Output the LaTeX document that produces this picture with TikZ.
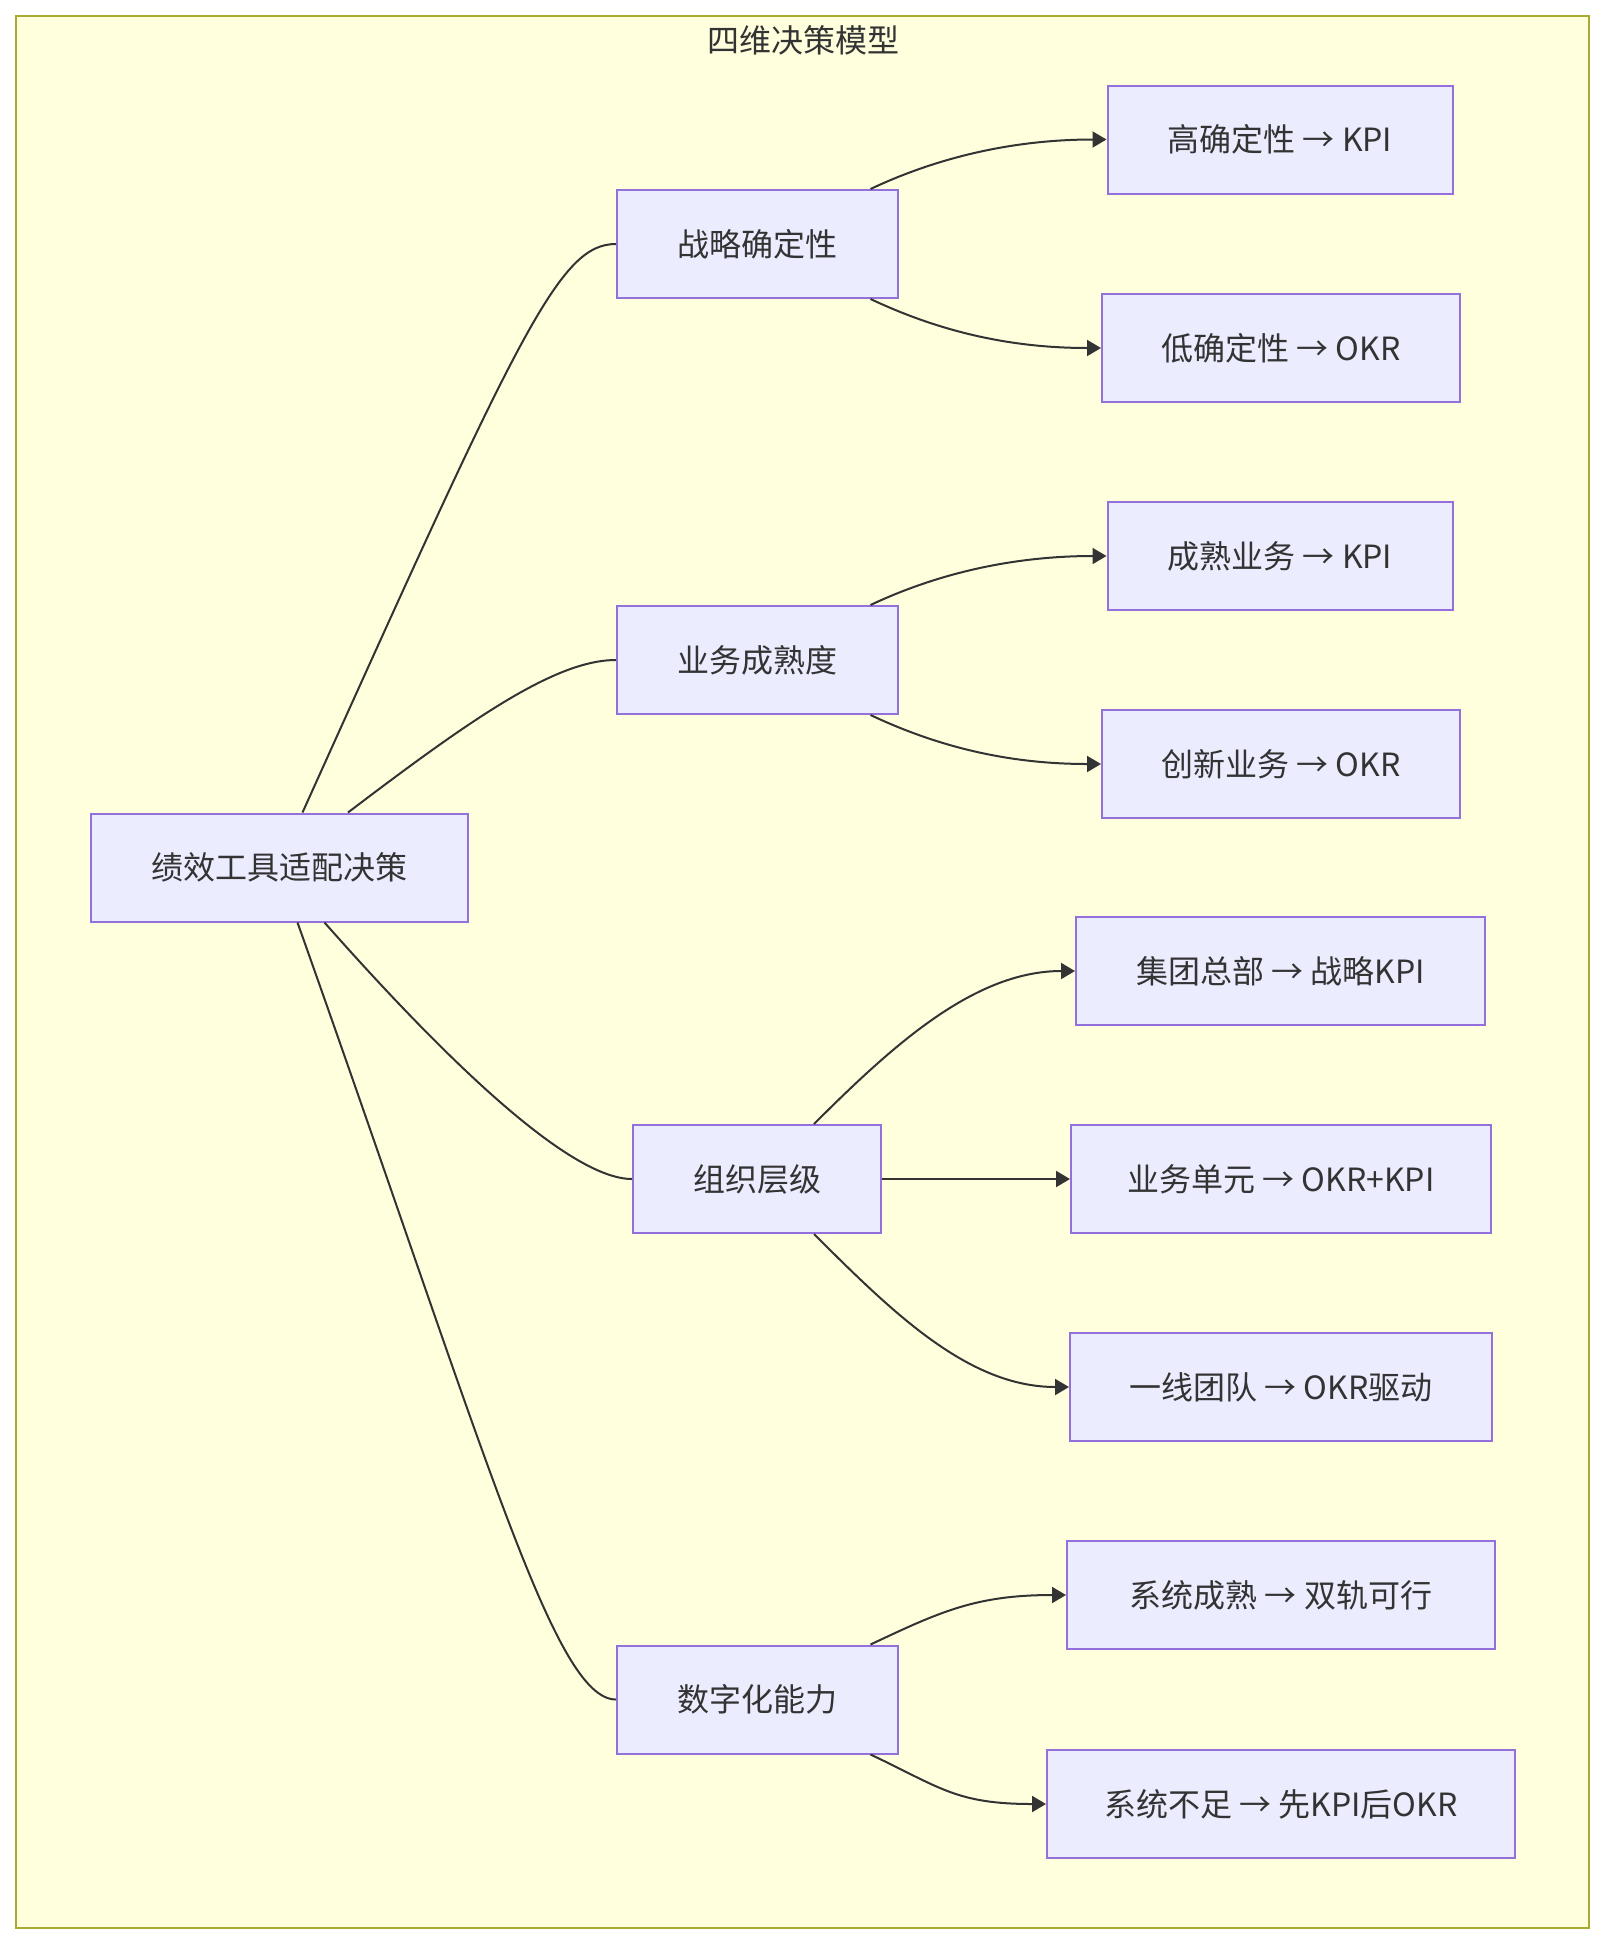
\documentclass[tikz,border=0pt]{standalone}
\usepackage{fontspec}
\newfontfamily\cjk{Noto Sans CJK SC}
\usetikzlibrary{calc,arrows.meta}
\definecolor{framefill}{HTML}{FFFFDE}
\definecolor{framedraw}{HTML}{AAAA33}
\definecolor{nodefill}{HTML}{ECECFF}
\definecolor{nodedraw}{HTML}{9370DB}
\definecolor{ink}{HTML}{333333}
\tikzset{
  box/.style={draw=nodedraw, fill=nodefill, line width=1pt, minimum height=54pt,
    inner sep=0pt, text=ink, font=\cjk\fontsize{16}{19}\selectfont},
  link/.style={draw=ink, line width=1pt},
  arrowlink/.style={link, -{Triangle[length=7pt,width=8pt]}},
}
\begin{document}
\begin{tikzpicture}[x=0.5pt,y=-0.5pt]
\useasboundingbox (0,0) rectangle (1605,1944);
\draw[fill=framefill, draw=framedraw, line width=1pt] (16,16) rectangle (1589,1928);
\node[text=ink, font=\cjk\fontsize{16}{19}\selectfont] (title) at (803,40) {四维决策模型};

\node[box, minimum width=188.5pt] (root) at (279.5,867.5) {绩效工具适配决策};

\node[box, minimum width=140.5pt] (s1) at (757.5,244) {战略确定性};
\node[box, minimum width=140.5pt] (s2) at (757.5,660) {业务成熟度};
\node[box, minimum width=124pt] (s3) at (757,1179) {组织层级};
\node[box, minimum width=140.5pt] (s4) at (757.5,1699.5) {数字化能力};

\node[box, minimum width=172.5pt] (l1) at (1280,139.5) {高确定性 → KPI};
\node[box, minimum width=179pt] (l2) at (1281,348) {低确定性 → OKR};
\node[box, minimum width=172.5pt] (l3) at (1280,556) {成熟业务 → KPI};
\node[box, minimum width=179pt] (l4) at (1281,764) {创新业务 → OKR};
\node[box, minimum width=204.5pt] (l5) at (1280.5,971) {集团总部 → 战略KPI};
\node[box, minimum width=210pt] (l6) at (1281,1179) {业务单元 → OKR+KPI};
\node[box, minimum width=211pt] (l7) at (1281,1387) {一线团队 → OKR驱动};
\node[box, minimum width=214pt] (l8) at (1281,1595) {系统成熟 → 双轨可行};
\node[box, minimum width=234pt] (l9) at (1281,1804) {系统不足 → 先KPI后OKR};

% root to dimensions
\draw[link] ($(root.north)+(23,0)$) .. controls +(218,-483) and +(-57,0) .. (s1.west);
\draw[link] ($(root.north)+(68.5,0)$) .. controls +(125,-95) and +(-60,0) .. (s2.west);
\draw[link] ($(root.south)+(45,0)$) .. controls +(130,147) and +(-60,0) .. (s3.west);
\draw[link] ($(root.south)+(18,0)$) .. controls +(190,535) and +(-62,0) .. (s4.west);

% dimensions to outcomes
\draw[arrowlink] ($(s1.north)+(113,0)$) .. controls +(70,-33) and +(-90,0) .. (l1.west);
\draw[arrowlink] ($(s1.south)+(113,0)$) .. controls +(70,33) and +(-90,0) .. (l2.west);
\draw[arrowlink] ($(s2.north)+(113,0)$) .. controls +(70,-33) and +(-90,0) .. (l3.west);
\draw[arrowlink] ($(s2.south)+(113,0)$) .. controls +(70,33) and +(-90,0) .. (l4.west);
\draw[arrowlink] ($(s3.north)+(57,0)$) .. controls +(80,-80) and +(-100,0) .. (l5.west);
\draw[arrowlink] (s3.east) -- (l6.west);
\draw[arrowlink] ($(s3.south)+(57,0)$) .. controls +(80,80) and +(-100,0) .. (l7.west);
\draw[arrowlink] ($(s4.north)+(113,0)$) .. controls +(70,-33) and +(-90,0) .. (l8.west);
\draw[arrowlink] ($(s4.south)+(113,0)$) .. controls +(70,33) and +(-90,0) .. (l9.west);
\end{tikzpicture}
\end{document}
